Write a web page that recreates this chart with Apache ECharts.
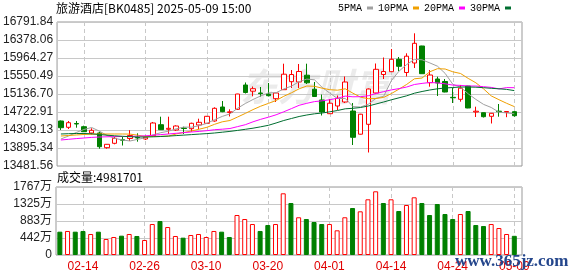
<!DOCTYPE html>
<html>
<head>
<meta charset="utf-8">
<script src="https://cdn.jsdelivr.net/npm/echarts@6/dist/echarts.min.js"></script>
<style>
html,body{margin:0;padding:0;background:#fff;}
#c{width:578px;height:276px;}
</style>
</head>
<body>
<div id="c"></div>
<script>
const dates = ['02-11','02-12','02-13','02-14','02-17','02-18','02-19','02-20','02-21','02-24','02-25','02-26','02-27','02-28',
'03-03','03-04','03-05','03-06','03-07','03-10','03-11','03-12','03-13','03-14','03-17','03-18','03-19','03-20','03-21',
'03-24','03-25','03-26','03-27','03-28','03-31','04-01','04-02','04-03','04-07','04-08','04-09','04-10','04-11',
'04-14','04-15','04-16','04-17','04-18','04-21','04-22','04-23','04-24','04-25','04-28','04-29','04-30',
'05-06','05-07','05-08','05-09'];

const openP = [14516.1,14371.2,14458.6,14385.0,14240.2,14240.2,13902.3,14003.4,14086.2,14113.8,
14136.8,14102.3,14178.1,14431.0,14325.3,14309.2,14355.1,14339.0,14424.1,14463.2,
14516.1,14837.9,14712.0,14785.0,15343.6,15201.1,15159.7,15136.7,15028.7,15235.6,
15419.5,15412.6,15568.9,15247.1,14998.8,14683.9,14860.9,14952.8,14745.9,14212.6,
14440.2,15159.7,15585.0,15649.4,15934.4,15631.0,15849.4,16240.2,15396.5,15481.5,
15424.1,15060.9,15014.9,15320.6,14722.9,14706.9,14624.1,14741.3,14716.0,14729.8];
const closeP = [14362.0,14477.0,14447.1,14270.1,14302.3,13925.3,13980.4,14118.4,14074.7,14182.7,
14125.3,14143.7,14470.1,14316.1,14348.2,14401.1,14343.6,14463.2,14486.2,14624.1,
14808.0,14730.0,14727.0,15136.7,15171.2,15258.6,15145.9,15097.7,15159.7,15591.9,
15585.0,15654.0,15394.2,15079.3,14722.9,14925.2,15033.3,15412.6,14141.3,14672.4,
15251.7,15704.5,15654.0,15934.4,15773.5,16005.7,16302.2,15603.4,15573.5,15389.6,
15182.7,15049.4,15270.1,14814.9,14741.3,14614.9,14693.1,14729.8,14734.4,14637.9];
const lowP = [14309.2,14332.1,14362.0,14265.0,14205.7,13879.3,13879.3,13980.4,13952.8,14056.3,
14040.2,14079.3,14155.1,14310.0,14217.2,14286.2,14217.2,14270.1,14332.1,14447.1,
14500.0,14718.0,14619.5,14768.9,15148.2,15083.9,15074.7,15079.3,14952.8,15230.0,
15274.7,15274.7,15366.6,15067.8,14642.5,14678.0,14768.9,14929.8,13964.3,14205.0,
13791.9,15136.7,15481.5,15645.0,15665.5,15539.0,15734.4,15598.0,15304.5,15090.8,
15175.8,14929.8,14959.7,14810.0,14608.0,14596.5,14458.6,14614.9,14603.4,14614.9];
const highP = [14527.6,14516.1,14516.1,14408.0,14348.2,14270.1,13985.0,14155.1,14148.2,14304.6,
14233.3,14178.1,14493.1,14614.9,14614.9,14417.2,14385.0,14477.0,14568.9,14631.0,
14831.0,14975.8,14785.0,15140.0,15401.1,15309.1,15297.6,15389.6,15165.0,15833.3,
15688.4,15826.4,15833.3,15412.6,15125.2,15021.8,15102.2,15539.0,14929.8,14680.0,
15263.2,15837.9,15975.8,16171.2,15987.3,16072.3,16532.1,16245.0,15688.4,15534.4,
15481.5,15274.7,15343.6,15325.0,14844.8,14710.0,14697.0,14906.8,14745.9,14752.8];

const ma5 = [14102.3,14171.2,14251.7,14320.7,14366.6,14283.9,14185.0,14118.4,14079.3,14056.3,
14095.4,14129.8,14198.8,14247.1,14281.6,14336.7,14375.8,14373.5,14408.0,14463.2,
14545.9,14621.8,14679.3,14810.3,14918.3,15010.3,15093.1,15162.0,15166.6,15251.7,
15318.3,15419.5,15479.2,15463.2,15288.4,15155.1,15031.0,15035.6,14847.1,14837.9,
14902.3,15035.6,15083.9,15442.5,15663.2,15814.9,15934.4,15922.9,15851.7,15775.8,
15610.3,15359.7,15293.0,15141.3,15012.6,14897.7,14826.4,14718.3,14702.3,14681.6];
const ma10 = [14171.2,14182.7,14194.2,14205.7,14212.6,14217.2,14217.2,14217.2,14217.2,14214.9,
14189.6,14157.4,14159.7,14164.3,14168.9,14217.2,14251.7,14286.2,14327.5,14371.2,
14440.2,14497.6,14527.5,14608.0,14690.7,14778.1,14856.3,14920.6,14987.3,15083.8,
15164.3,15256.2,15320.6,15313.7,15270.0,15235.6,15224.1,15256.2,15155.1,15063.1,
15028.7,15033.3,15058.5,15145.9,15249.4,15357.4,15486.1,15504.5,15647.0,15718.3,
15711.4,15647.0,15608.0,15495.3,15394.2,15254.0,15093.0,15005.7,14922.9,14847.1];
const ma20 = [14079.3,14095.4,14111.4,14125.2,14139.0,14148.2,14152.8,14157.4,14159.7,14162.0,
14166.6,14175.8,14189.6,14203.4,14217.2,14233.3,14249.4,14263.2,14277.0,14293.0,
14316.0,14327.5,14343.6,14387.3,14431.0,14497.6,14555.1,14603.4,14658.6,14727.5,
14801.1,14876.9,14922.9,14962.0,14980.4,15005.7,15040.2,15088.4,15072.3,15074.6,
15097.6,15145.9,15191.9,15231.0,15260.8,15297.6,15355.1,15380.4,15401.1,15391.9,
15371.2,15341.3,15334.4,15320.6,15320.6,15304.5,15288.4,15254.0,15283.8,15281.5];
const ma30 = [14217.2,14224.1,14228.7,14228.7,14221.8,14205.7,14189.6,14175.8,14164.3,14155.1,
14148.2,14148.2,14152.8,14159.7,14168.9,14180.4,14191.9,14203.4,14214.9,14226.4,
14240.2,14258.6,14277.0,14299.9,14325.2,14350.5,14382.7,14417.2,14470.1,14527.5,
14573.5,14619.5,14654.0,14681.6,14699.9,14727.5,14757.4,14796.5,14808.0,14826.4,
14860.9,14906.8,14952.8,15003.4,15049.4,15095.3,15155.1,15194.2,15228.7,15256.2,
15274.6,15286.1,15297.6,15297.6,15293.0,15281.5,15267.7,15256.2,15242.5,15214.9];

const volume = [6060000,6240000,6060000,6240000,5460000,6060000,4160000,4680000,5020000,5460000,
4940000,3900000,8050000,8830000,7270000,4940000,4500000,5200000,5460000,4680000,
6240000,6060000,4680000,10390000,9350000,8050000,6240000,7790000,8050000,16030000,
13510000,9800000,9350000,8570000,8050000,8050000,6410000,9800000,12210000,11350000,
14470000,16550000,13510000,14470000,11430000,12990000,14990000,13510000,10390000,13250000,
10650000,9350000,10650000,11430000,7790000,7530000,8050000,7010000,5460000,4981701];

const priceTicks = [13481.56,13895.34,14309.13,14722.91,15136.70,15550.49,15964.27,16378.06,16791.84];
const volTicks = [0,4416750,8833500,13250250,17667000];
const volTickLabels = ['0','442万','883万','1325万','1767万'];
const xLabelIdx = [3,11,19,27,35,43,51,59];

const maNames = ['5PMA','10PMA','20PMA','30PMA'];
const maColors = ['#a0a0a0','#f0a000','#ff00ff','#006e30'];
const maData = [ma5, ma10, ma20, ma30];

const RED = '#ff0000', GREEN = '#008000';
const candleData = openP.map((o,i)=>[i, o, closeP[i], lowP[i], highP[i]]);
const volData = volume.map((v,i)=>{
  const up = i > 0 && closeP[i] >= closeP[i-1];
  return {value:[i,v], itemStyle:{color: up ? '#ffffff' : GREEN, borderColor: up ? RED : GREEN, borderWidth:1}};
});

const chart = echarts.init(document.getElementById('c'), null, {renderer:'canvas'});
const fontSans = 'Liberation Sans, Noto Sans CJK SC, sans-serif';
const xAxisBase = (grid, showLabel) => ({
  type:'value', gridIndex:grid, min:-0.5, max:60,
  axisLine:{show:false},
  axisTick:{show:false, customValues:xLabelIdx},
  axisLabel:{show:showLabel, customValues:xLabelIdx, formatter:v=>dates[v], color:'#e00000', fontSize:12, margin:6, fontFamily:fontSans},
  splitLine:{show:true, lineStyle:{color:'#c8c8c8', type:[4,3], width:1}}
});

const option = {
  animation:false,
  backgroundColor:'#ffffff',
  title:[
    {text:'旅游酒店[BK0485] 2025-05-09 15:00', left:56, top:2, padding:0,
     textStyle:{fontSize:12, fontWeight:'normal', color:'#000', fontFamily:'Noto Sans CJK SC'}},
    {text:'成交量:' + volume[volume.length-1], left:57, top:171, padding:0,
     textStyle:{fontSize:12, fontWeight:'normal', color:'#000', fontFamily:'Noto Sans CJK SC'}}
  ],
  legend:{
    data:maNames, left:338, top:3, padding:0, align:'right', icon:'rect',
    itemWidth:6, itemHeight:3, itemGap:5,
    textStyle:{fontSize:10, fontFamily:'Liberation Mono', color:'#000'}
  },
  grid:[
    {left:56, top:22, width:466, height:144, show:true, borderColor:'#999', borderWidth:1},
    {left:56, top:187, width:466, height:68, show:true, borderColor:'#999', borderWidth:1}
  ],
  xAxis:[xAxisBase(0,false), xAxisBase(1,true)],
  yAxis:[
    {type:'value', gridIndex:0, min:13481.56, max:16791.84,
     axisLine:{show:false}, axisTick:{show:false, customValues:priceTicks},
     axisLabel:{customValues:priceTicks, formatter:v=>v.toFixed(2), color:'#222', fontSize:12, margin:4, fontFamily:fontSans},
     splitLine:{show:true, lineStyle:{color:'#c8c8c8', width:1}}},
    {type:'value', gridIndex:1, min:0, max:17667000,
     axisLine:{show:false}, axisTick:{show:false, customValues:volTicks},
     axisLabel:{customValues:volTicks, formatter:v=>{const k=volTicks.indexOf(v); return k>=0?volTickLabels[k]:'';}, color:'#222', fontSize:12, margin:4, fontFamily:fontSans},
     splitLine:{show:true, lineStyle:{color:'#c8c8c8', width:1}}}
  ],
  graphic:[
    {type:'text', left:240, top:68, z:-1, silent:true,
     style:{text:'东方财富', font:'italic bold 38px "Noto Sans CJK SC"', fill:'rgba(0,0,0,0.08)'}},
    {type:'text', left:455, top:253, z:100, silent:true,
     style:{text:'www.365jz.com', font:'bold 17px "Liberation Serif"', fill:'#24468c'}}
  ],
  series:[
    {type:'candlestick', name:'K', xAxisIndex:0, yAxisIndex:0, barWidth:5, data:candleData,
     itemStyle:{color:'#ffffff', color0:GREEN, borderColor:RED, borderColor0:GREEN, borderWidth:1}},
    ...maData.map((arr,k)=>({
      type:'line', name:maNames[k], xAxisIndex:0, yAxisIndex:0, symbol:'none', showSymbol:false,
      color:maColors[k], lineStyle:{width:1, color:maColors[k]}, itemStyle:{color:maColors[k]},
      data:arr.map((v,i)=>[i,v]), z:3
    })),
    {type:'bar', name:'VOL', xAxisIndex:1, yAxisIndex:1, barWidth:5, data:volData}
  ]
};
chart.setOption(option);
</script>
</body>
</html>
